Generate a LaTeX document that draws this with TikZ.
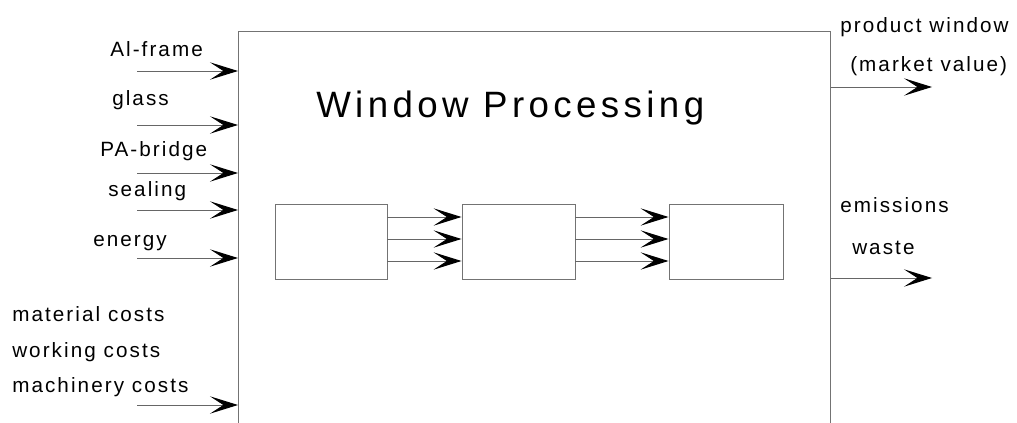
\documentclass[tikz,border=0pt]{standalone}
\usepackage{fontspec}
\setmainfont{Liberation Sans}
\newfontfamily\lblfont[LetterSpace=10]{Liberation Sans}
\newfontfamily\ttlfont[LetterSpace=12]{Liberation Sans}
\usetikzlibrary{arrows.meta}
\begin{document}
\begin{tikzpicture}[x=0.75pt,y=-0.75pt,
  lbl/.style={anchor=base west,inner sep=0pt,font=\lblfont\fontsize{15.5pt}{18pt}\selectfont},
  boxline/.style={draw=black!55,line width=0.7pt},
  arr/.style={draw=black!60,line width=0.7pt,-{Stealth[length=21pt,width=13pt,inset=10pt,color=black]}}]
\useasboundingbox (0,0) rectangle (1017,423);
% main box (open at the bottom, beyond the page)
\node[boxline,minimum width=592pt*0.75,minimum height=400pt*0.75,inner sep=0pt,anchor=north west] (big) at (238,31) {};
\node[anchor=base west,inner sep=0pt,font=\ttlfont\fontsize{27.5pt}{30pt}\selectfont] (title) at (316,118) {Window Processing};
% inner boxes
\node[boxline,minimum width=112pt*0.75,minimum height=75pt*0.75,inner sep=0pt] (b1) at (331,241.5) {};
\node[boxline,minimum width=113pt*0.75,minimum height=75pt*0.75,inner sep=0pt] (b2) at (518.5,241.5) {};
\node[boxline,minimum width=114pt*0.75,minimum height=75pt*0.75,inner sep=0pt] (b3) at (726,241.5) {};
\foreach \yy in {217,239,261}{
  \draw[arr] (b1.east |- 0,\yy) -- (b2.west |- 0,\yy);
  \draw[arr] (b2.east |- 0,\yy) -- (b3.west |- 0,\yy);
}
% inputs
\node[lbl] (l1) at (110,57) {Al-frame};
\node[lbl] (l2) at (112,106) {glass};
\node[lbl] (l3) at (100,157) {PA-bridge};
\node[lbl] (l4) at (108,197) {sealing};
\node[lbl] (l5) at (93,247) {energy};
\node[lbl] (c1) at (12,322) {material costs};
\node[lbl] (c2) at (12,358) {working costs};
\node[lbl] (c3) at (12,393) {machinery costs};
\coordinate (s1) at (137,71);
\coordinate (s2) at (137,125);
\coordinate (s3) at (137,173);
\coordinate (s4) at (137,210);
\coordinate (s5) at (137,258);
\coordinate (s6) at (137,405);
\foreach \s in {s1,s2,s3,s4,s5,s6}{
  \draw[arr] (\s) -- (\s -| big.west);
}
% outputs
\node[lbl] (o1) at (840,33) {product window};
\node[lbl] (o2) at (850,72) {(market value)};
\node[lbl] (o3) at (840,213) {emissions};
\node[lbl] (o4) at (852,255) {waste};
\coordinate (e1) at (932,87);
\coordinate (e2) at (932,278);
\draw[arr] (big.east |- e1) -- (e1);
\draw[arr] (big.east |- e2) -- (e2);
\end{tikzpicture}
\end{document}
